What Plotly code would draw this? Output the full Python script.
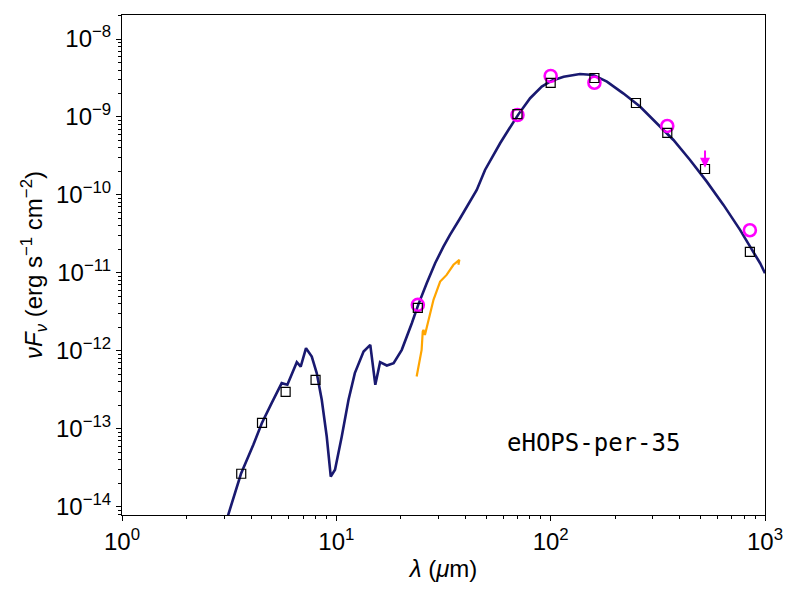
import numpy as np
import plotly.graph_objects as go

# model SED (wavelength in micron, nuFnu in erg/s/cm2)
model_lam = [3.0, 3.13, 3.59, 4.10, 4.49, 4.99, 5.56, 5.91, 6.54, 6.82, 7.22, 7.68, 8.10, 8.55,
             9.02, 9.42, 9.86, 10.6, 11.4, 12.2, 13.4, 14.4, 15.2, 16.0, 17.2, 18.5, 20.2,
             22.5, 24.1, 26.4, 28.9, 31.6, 33.9, 37.8, 41.3, 45.2, 49.4, 55.0, 58.1, 63.5,
             70.7, 80.2, 90.9, 101, 115, 137, 158, 183, 218, 261, 313, 374, 447, 535, 640,
             765, 852, 949, 1000]
model_flux = [5.4e-15, 7.9e-15, 2.65e-14, 6.24e-14, 1.18e-13, 2.13e-13, 3.85e-13, 3.67e-13,
              7.16e-13, 6.29e-13, 1.08e-12, 8.45e-13, 5.18e-13, 2.36e-13, 7.96e-14, 2.44e-14,
              2.98e-14, 7.96e-14, 2.36e-13, 5.18e-13, 9.8e-13, 1.19e-12, 3.67e-13, 7.16e-13,
              6.48e-13, 6.95e-13, 1.03e-12, 2.26e-12, 3.89e-12, 7.38e-12, 1.33e-11, 2.17e-11,
              3.07e-11, 5.02e-11, 7.45e-11, 1.16e-10, 2.09e-10, 3.59e-10, 4.60e-10, 6.81e-10,
              1.08e-9, 1.74e-9, 2.45e-9, 2.92e-9, 3.29e-9, 3.56e-9, 3.45e-9, 2.84e-9, 2.01e-9,
              1.36e-9, 8.30e-10, 5.07e-10, 2.81e-10, 1.48e-10, 7.45e-11, 3.56e-11, 2.17e-11,
              1.33e-11, 9.9e-12]

# IRS spectrum
spec_lam = [23.7, 25.0, 25.3, 25.5, 25.9, 28.4, 30.5, 32.7, 35.2, 36.5, 37.5, 37.1]
spec_flux = [4.69e-13, 1.03e-12, 1.77e-12, 1.86e-12, 1.60e-12, 4.51e-12, 7.73e-12, 9.42e-12,
             1.27e-11, 1.40e-11, 1.47e-11, 1.27e-11]

# model photometry (squares)
phot_lam = [3.6, 4.5, 5.8, 8.0, 24, 70, 100, 160, 250, 350, 525, 850]
phot_flux = [2.65e-14, 1.19e-13, 2.98e-13, 4.25e-13, 3.56e-12, 1.09e-9, 2.73e-9, 3.16e-9,
             1.51e-9, 6.24e-10, 2.15e-10, 1.86e-11]

# observed photometry (circles)
obs_lam = [24, 70, 100, 160, 350, 850]
obs_flux = [3.89e-12, 1.06e-9, 3.36e-9, 2.75e-9, 7.67e-10, 3.52e-11]

# upper limit
ul_lam = [525]
ul_flux = [3.89e-10]

x_decades = [0, 1, 2, 3]
y_decades = [-14, -13, -12, -11, -10, -9, -8]


def minor_vals(decades):
    return [m * 10.0 ** d for d in range(decades[0] - 1, decades[-1] + 1) for m in range(2, 10)]


def power_labels(decades):
    return ['10<sup>%s</sup>' % str(d).replace('-', '−') for d in decades]


fig = go.Figure()
fig.add_trace(go.Scatter(x=model_lam, y=model_flux, mode='lines',
                         line=dict(color='#191970', width=2.6)))
fig.add_trace(go.Scatter(x=spec_lam, y=spec_flux, mode='lines',
                         line=dict(color='orange', width=2.2)))
fig.add_trace(go.Scatter(x=obs_lam, y=obs_flux, mode='markers',
                         marker=dict(symbol='circle-open', size=12, color='magenta',
                                     line=dict(width=2.6, color='magenta'))))
fig.add_trace(go.Scatter(x=phot_lam, y=phot_flux, mode='markers',
                         marker=dict(symbol='square-open', size=9, color='black',
                                     line=dict(width=1.2, color='black'))))

for lam, fl in zip(ul_lam, ul_flux):
    fig.add_annotation(x=np.log10(lam), y=np.log10(fl) - 0.24, ax=np.log10(lam), ay=np.log10(fl),
                       xref='x', yref='y', axref='x', ayref='y', showarrow=True,
                       arrowhead=2, arrowsize=1, arrowwidth=2, arrowcolor='magenta', text='')

fig.add_annotation(x=0.733, y=0.144, xref='paper', yref='paper', text='eHOPS-per-35',
                   xanchor='center', yanchor='middle', showarrow=False,
                   font=dict(family='DejaVu Sans Mono', size=24, color='black'))

axis_common = dict(type='log', showgrid=False, zeroline=False, automargin=False,
                   showline=True, linecolor='black', linewidth=1, mirror=True,
                   ticks='outside', ticklen=5, tickcolor='black',
                   tickfont=dict(family='Liberation Sans', size=24, color='black'))

fig.update_xaxes(**axis_common, range=[0, 3], tickmode='array',
                 tickvals=[10.0 ** d for d in x_decades], ticktext=power_labels(x_decades),
                 minor=dict(ticks='outside', ticklen=3, tickcolor='black', tickmode='array',
                            tickvals=minor_vals(x_decades)),
                 title=dict(text='<i>λ</i> (<i>μ</i>m)', standoff=6,
                            font=dict(family='Liberation Sans', size=24, color='black')))
fig.update_yaxes(**axis_common, range=[-14.106, -7.692], tickmode='array',
                 tickvals=[10.0 ** d for d in y_decades], ticktext=power_labels(y_decades),
                 minor=dict(ticks='outside', ticklen=3, tickcolor='black', tickmode='array',
                            tickvals=minor_vals(y_decades)),
                 title=dict(text='<i>νF<sub>ν</sub></i> (erg s<sup>−1</sup> cm<sup>−2</sup>)', standoff=6,
                            font=dict(family='Liberation Sans', size=24, color='black')))

fig.update_layout(width=800, height=600, showlegend=False,
                  plot_bgcolor='white', paper_bgcolor='white',
                  margin=dict(l=114, r=43, t=7, b=93))

fig.write_html("out.html")
